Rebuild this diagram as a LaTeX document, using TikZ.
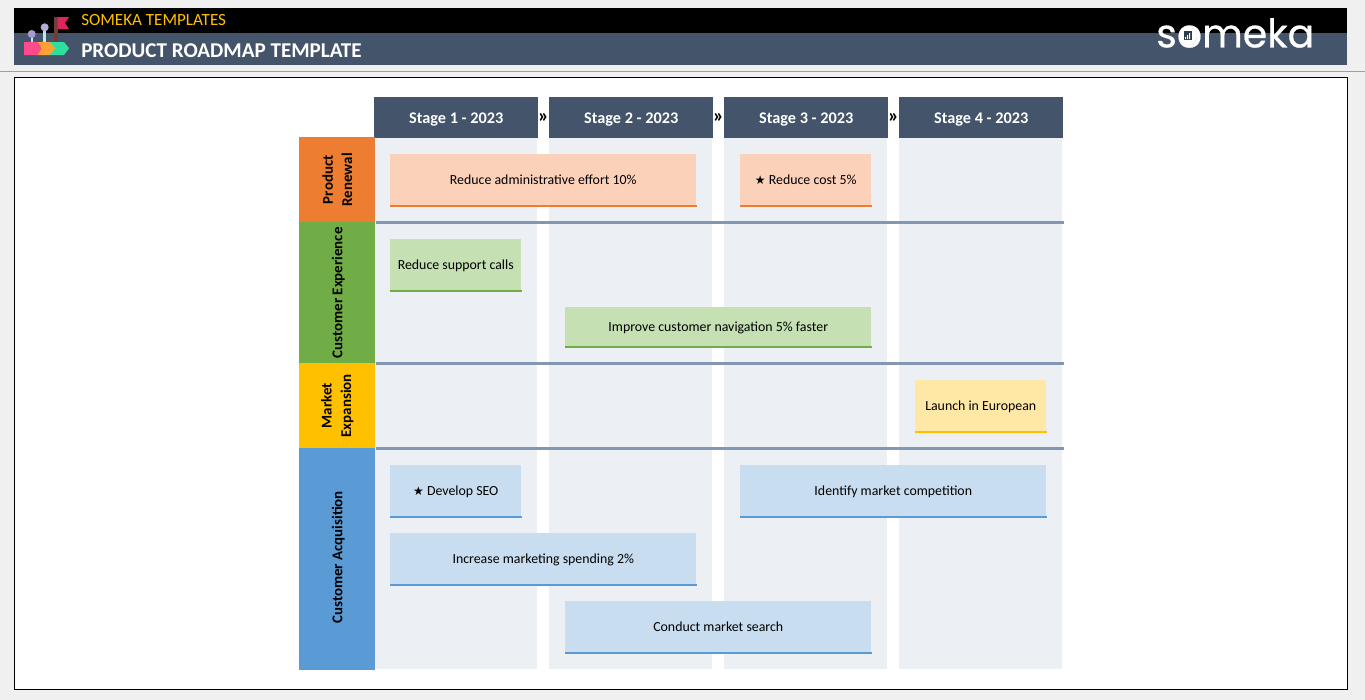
\documentclass[tikz,border=0pt]{standalone}
\usepackage{fontspec}
\setmainfont{Carlito}
\newfontfamily\logofont[FakeBold=0.5]{Poppins}
\newfontfamily\symfont{DejaVu Sans}
\usetikzlibrary{positioning, arrows.meta, calc, fit}
\definecolor{pagegray}{HTML}{F0F0F0}
\definecolor{slateblue}{HTML}{44546A}
\definecolor{coltint}{HTML}{ECEFF4}
\definecolor{sepblue}{HTML}{8497B0}
\definecolor{rowOrange}{HTML}{ED7D31}
\definecolor{rowGreen}{HTML}{70AD47}
\definecolor{rowGold}{HTML}{FFC000}
\definecolor{rowBlue}{HTML}{5B9BD5}
\definecolor{cardOrange}{HTML}{FBD1BA}
\definecolor{cardGreen}{HTML}{C5E0B3}
\definecolor{cardGold}{HTML}{FFE8A6}
\definecolor{cardBlue}{HTML}{C9DDF1}
\definecolor{flagred}{HTML}{E0245E}
\definecolor{polebrown}{HTML}{6D3F37}
\definecolor{pinlilac}{HTML}{A99BD0}
\definecolor{pinstem}{HTML}{C0E6F5}
\definecolor{tagpink}{HTML}{FF4B8B}
\definecolor{tagamber}{HTML}{FFA033}
\definecolor{tagmint}{HTML}{2EE0A0}

\begin{document}
\begin{tikzpicture}[
    x=0.75pt, y=-0.75pt,
    font=\fontsize{10.4pt}{12pt}\selectfont,
    stagehead/.style={rectangle, fill=slateblue, text=white, anchor=north west, minimum width=123pt, minimum height=30.75pt, inner sep=0pt, text height=8.6pt, text depth=0.6pt, font=\fontsize{12.2pt}{14pt}\selectfont\bfseries},
    coltrack/.style={rectangle, fill=coltint, anchor=north west, minimum width=122.25pt, minimum height=398.25pt, inner sep=0pt},
    rowhead/.style={rectangle, fill=#1, anchor=north west, minimum width=57pt, inner sep=0pt},
    rowtext/.style={rotate=90, align=center, font=\fontsize{11.2pt}{14.5pt}\selectfont\bfseries},
    card/.style={rectangle, fill=card#1, anchor=north west, minimum height=38.25pt, inner sep=0pt, text height=7.8pt, text depth=1pt},
    cardline/.style={line width=1.5pt},
    sepline/.style={sepblue, line width=2.25pt},
    chevron/.style={font=\fontsize{15pt}{15pt}\selectfont\bfseries, inner sep=0pt}
]

% ==================== PAGE ====================
\fill[pagegray] (0,0) rectangle (1365,700);
\useasboundingbox (0,0) rectangle (1365,700);
\fill[black] (14,8) rectangle (1347,33);
\fill[slateblue] (14,33) rectangle (1347,65);
\draw[gray!75, line width=0.75pt] (0,71) -- (1365,71);
\draw[black, fill=white, line width=0.75pt] (14.5,77.5) rectangle (1347.5,689.5);

% ==================== TITLE BAR ====================
\node[anchor=west, inner sep=0pt, text=rowGold, font=\fontsize{12.8pt}{14pt}\selectfont] (brand) at (81,20.5) {SOMEKA TEMPLATES};
\node[anchor=west, inner sep=0pt, text=white, font=\fontsize{15.8pt}{16pt}\selectfont\bfseries] (doctitle) at (81,50.5) {PRODUCT ROADMAP TEMPLATE};
\node[anchor=west, inner sep=0pt, text=white, font=\fontsize{29.6pt}{30pt}\logofont] (logo) at (1156,33) {someka};
\fill[white] (1188,36) circle (9);
\fill[slateblue!70!black] (1183.5,31) rectangle (1192,40);
\fill[white] (1185,37) rectangle (1186,39) (1187,35) rectangle (1188,39) (1189,33) rectangle (1190,39);

% ==================== ICON ====================
\fill[polebrown] (54.3,17) rectangle (57.7,42);
\fill[flagred] (57.7,17) -- (69,17) -- (65,23) -- (69,29) -- (57.7,29) -- cycle;
\fill[pinstem] (30.7,37) rectangle (32.7,42);
\fill[pinstem] (43,30) rectangle (46.3,42);
\fill[pinlilac] (31.7,34) circle (4);
\fill[pinlilac!85!white] (44.7,27.3) circle (4);
\fill[tagmint] (50,42) -- (64,42) -- (69,48.3) -- (64,55) -- (50,55) -- cycle;
\fill[tagamber] (37.3,42) -- (50,42) -- (55,48.3) -- (50,55) -- (37.3,55) -- (41.5,48.3) -- cycle;
\fill[tagpink] (24,42) -- (37.3,42) -- (41.5,48.3) -- (37.3,55) -- (24,55) -- cycle;

% ==================== TRACKS AND HEADERS ====================
\foreach \hx [count=\ci] in {374, 549, 724, 899}{
    \node[coltrack] (track\ci) at (\hx,138) {};
    \node[stagehead] (stage\ci) at (\hx,97) {Stage \ci{} - 2023};
}
\node[chevron] (next1) at (543.5,118) {»};
\node[chevron] (next2) at (718.5,118) {»};
\node[chevron] (next3) at (893.5,118) {»};

% ==================== ROW HEADERS ====================
\node[rowhead=rowOrange, minimum height=63.75pt] (renewal) at (299,137) {};
\node[rowhead=rowGreen, minimum height=105.75pt] (experience) at (299,222) {};
\node[rowhead=rowGold, minimum height=63.75pt] (expansion) at (299,363) {};
\node[rowhead=rowBlue, minimum height=166.5pt] (acquisition) at (299,448) {};
\node[rowtext] (renewaltext) at (renewal.center) {Product\\Renewal};
\node[rowtext, yshift=-0.75pt] (experiencetext) at (experience.center) {Customer Experience};
\node[rowtext] (expansiontext) at (expansion.center) {Market\\Expansion};
\node[rowtext, xshift=1.5pt, yshift=-0.75pt] (acquisitiontext) at (acquisition.center) {Customer Acquisition};

% ==================== SEPARATORS ====================
\draw[sepline] (renewal.south east) -- (stage4.east |- renewal.south);
\draw[sepline] (experience.south east) -- (stage4.east |- experience.south);
\draw[sepline] (expansion.south east) -- (stage4.east |- expansion.south);

% ==================== CARDS ====================
\node[card=Orange, minimum width=229.5pt] (effort) at (390,154) {Reduce administrative effort 10\%};
\node[card=Orange, minimum width=98.25pt] (cost) at (740,154) {{\symfont\fontsize{9pt}{10pt}\selectfont ★} Reduce cost 5\%};
\node[card=Green, minimum width=98.25pt] (calls) at (390,239) {Reduce support calls};
\node[card=Green, minimum width=229.5pt, minimum height=29.25pt] (navigation) at (565,307) {Improve customer navigation 5\% faster};
\node[card=Gold, minimum width=98.25pt] (european) at (915,380) {Launch in European};
\node[card=Blue, minimum width=98.25pt] (seo) at (390,465) {{\symfont\fontsize{9pt}{10pt}\selectfont ★} Develop SEO};
\node[card=Blue, minimum width=229.5pt] (competition) at (740,465) {Identify market competition};
\node[card=Blue, minimum width=229.5pt] (spending) at (390,533) {Increase marketing spending 2\%};
\node[card=Blue, minimum width=229.5pt] (search) at (565,601) {Conduct market search};

% Card underlines
\foreach \cardname/\tone in {effort/rowOrange, cost/rowOrange, calls/rowGreen, navigation/rowGreen, european/rowGold, seo/rowBlue, competition/rowBlue, spending/rowBlue, search/rowBlue}{
    \draw[cardline, \tone] (\cardname.south west) -- ($(\cardname.south east)+(0.6,0)$);
}

\end{tikzpicture}
\end{document}
